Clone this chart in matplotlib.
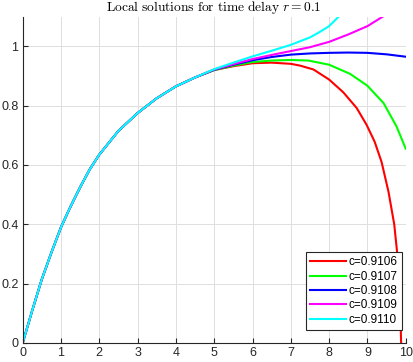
import numpy as np
import matplotlib
matplotlib.use("Agg")
import matplotlib.pyplot as plt

plt.rcParams["font.family"] = ["Liberation Sans", "DejaVu Sans"]
plt.rcParams["mathtext.fontset"] = "cm"

# shared early part (all five curves overlap here)
x_common = [0.0, 0.25, 0.5, 0.75, 1.0, 1.25, 1.5, 1.75, 2.0, 2.5, 3.0, 3.5, 4.0, 4.5]
y_common = [0.0, 0.11, 0.215, 0.305, 0.39, 0.46, 0.525, 0.585, 0.635, 0.715, 0.775,
            0.825, 0.865, 0.895]

# tails after x = 5, one per value of c
x_red = [5.0, 5.5, 6.0, 6.5, 7.0, 7.24, 7.59, 8.0, 8.37, 8.72, 8.98, 9.19, 9.37,
         9.55, 9.7, 9.78, 9.82, 9.86, 9.88]
y_red = [0.92, 0.933, 0.943, 0.945, 0.941, 0.935, 0.922, 0.888, 0.845, 0.792, 0.735,
         0.678, 0.61, 0.51, 0.4, 0.3, 0.2, 0.1, 0.0]

x_green = [5.0, 5.5, 6.0, 6.5, 7.0, 7.46, 8.0, 8.55, 9.0, 9.42, 9.76, 10.0]
y_green = [0.92, 0.935, 0.947, 0.952, 0.954, 0.952, 0.938, 0.907, 0.867, 0.809, 0.73, 0.655]

x_blue = [5.0, 5.5, 6.0, 6.5, 7.0, 7.5, 8.0, 8.5, 9.0, 9.5, 10.0]
y_blue = [0.921, 0.938, 0.953, 0.964, 0.972, 0.976, 0.978, 0.979, 0.978, 0.973, 0.965]

x_mag = [5.0, 5.5, 6.0, 6.5, 7.0, 7.5, 8.0, 8.5, 9.0, 9.4]
y_mag = [0.922, 0.94, 0.957, 0.971, 0.984, 0.997, 1.015, 1.04, 1.068, 1.1]

x_cyan = [5.0, 5.5, 6.0, 6.5, 7.0, 7.5, 7.75, 8.0, 8.25]
y_cyan = [0.923, 0.945, 0.966, 0.985, 1.005, 1.03, 1.048, 1.068, 1.1]

c_values = ["0.9106", "0.9107", "0.9108", "0.9109", "0.9110"]
colors = ["#FF0000", "#00FF00", "#0000FF", "#FF00FF", "#00FFFF"]
tails = [(x_red, y_red), (x_green, y_green), (x_blue, y_blue),
         (x_mag, y_mag), (x_cyan, y_cyan)]

fig = plt.figure(figsize=(4.14, 3.62), dpi=100)
ax = fig.add_axes([0.0548, 0.0525, 0.9252, 0.9015])

for (xt, yt), c, col in zip(tails, c_values, colors):
    xs = x_common + list(xt)
    ys = y_common + list(yt)
    ax.plot(xs, ys, color=col, lw=1.5, label=f"c={c}", solid_joinstyle="round")

ax.set_xlim(0, 10)
ax.set_ylim(0, 1.1)
ax.set_xticks(range(0, 11))
ax.set_yticks([0, 0.2, 0.4, 0.6, 0.8, 1.0])
ax.set_yticklabels(["0", "0.2", "0.4", "0.6", "0.8", "1"])
ax.grid(True, color="#DFDFDF", lw=0.7)
ax.set_axisbelow(True)

for side in ["top", "right"]:
    ax.spines[side].set_visible(False)
for side in ["left", "bottom"]:
    ax.spines[side].set_color("#262626")
    ax.spines[side].set_linewidth(0.8)
ax.tick_params(direction="in", length=3.5, width=0.8, colors="#262626",
               labelsize=9, pad=3)

# title placed by hand so it stays inside the small canvas
fig.text(0.517, 0.9705, r"$\mathrm{Local\ solutions\ for\ time\ delay}\ r=0.1$",
         fontsize=9.7, ha="center", va="baseline")

leg = ax.legend(loc="lower right", bbox_to_anchor=(0.99, 0.04),
                borderaxespad=0, fontsize=8.5, handlelength=3.0,
                handletextpad=0.25, labelspacing=0.2, borderpad=0.35,
                fancybox=False, framealpha=1)
leg.get_frame().set_edgecolor("#262626")
leg.get_frame().set_linewidth(0.8)

fig.savefig("out.png", dpi=100)
